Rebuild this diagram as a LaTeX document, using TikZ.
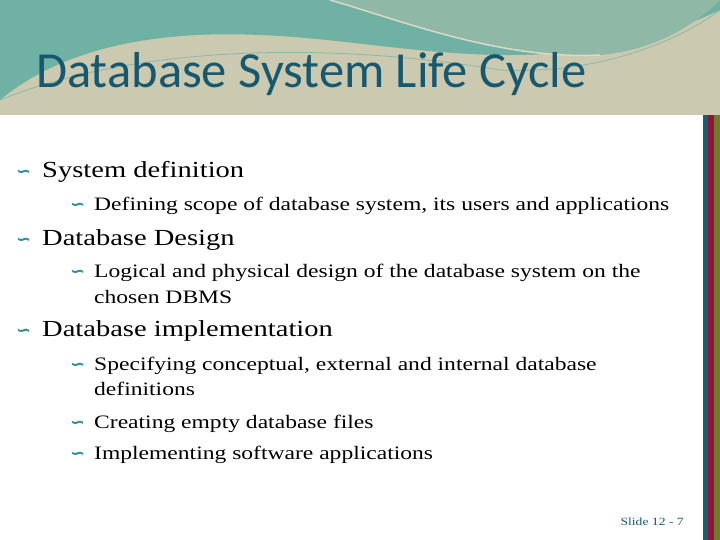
\documentclass[tikz,border=0pt]{standalone}
\usepackage{fontspec}
\setmainfont{Liberation Serif}[FakeStretch=1.24]
\newfontfamily\titlefont{Carlito}
\newfontfamily\symfont{DejaVu Sans}
\definecolor{band}{HTML}{CBC9AF}
\definecolor{teal1}{HTML}{6FB2A3}
\definecolor{teal2}{HTML}{8FB8A6}
\definecolor{titlec}{HTML}{17586E}
\definecolor{bulc}{HTML}{2E8C9A}
\definecolor{s1}{HTML}{1B5C72}
\definecolor{s2}{HTML}{8E1538}
\definecolor{s3}{HTML}{6E7A2C}
\tikzset{lone/.style={anchor=base west,font=\fontsize{23}{24}\selectfont,inner sep=0},
ltwo/.style={anchor=base west,font=\fontsize{19}{21}\selectfont,inner sep=0},
bul/.style={anchor=base west,inner sep=0,text=bulc,font=\symfont\bfseries\fontsize{18}{18}\selectfont}}
\begin{document}
\begin{tikzpicture}[x=1pt,y=-1pt]
\useasboundingbox (0,0) rectangle (720,540);
\fill[white] (0,0) rectangle (720,540);
\fill[band] (0,0) rectangle (720,115);
\fill[teal1] (0,0) -- (0,100) .. controls (60,50) and (150,30) .. (260,35) .. controls (400,40) and (550,90) .. (720,10) -- (720,0) -- cycle;
\fill[teal2] (330,0) .. controls (400,20) and (500,60) .. (600,55) .. controls (660,50) and (700,20) .. (720,0) -- cycle;
\draw[teal1!70!band,line width=0.8] (0,100) .. controls (150,40) and (350,45) .. (500,70) .. controls (600,75) and (680,40) .. (720,10);
\draw[band!70!white,line width=1.5] (330,0) .. controls (400,20) and (500,60) .. (600,55);
\node[anchor=base west,inner sep=0,text=titlec,font=\titlefont\fontsize{50.5}{52}\selectfont] (title) at (36,88) {Database System Life Cycle};
\fill[s1] (703,115) rectangle (708,540);
\fill[s2] (708,115) rectangle (714,540);
\fill[s3] (714,115) rectangle (720,540);
\foreach \n/\y/\t in {a/178/System definition,b/245/Database Design,c/336/Database implementation}{
 \node[bul] (b\n) at (16,\y) {∽};
 \node[lone] (t\n) at (42,\y) {\t};}
\foreach \n/\y/\t in {d/211/{Defining scope of database system, its users and applications},
 e/277/{Logical and physical design of the database system on the},
 f/370/{Specifying conceptual, external and internal database},
 g/428/{Creating empty database files},
 h/459/{Implementing software applications}}{
 \node[bul] (b\n) at (70,\y) {∽};
 \node[ltwo] (t\n) at (94,\y) {\t};}
\node[ltwo] (te2) at (94,303) {chosen DBMS};
\node[ltwo] (tf2) at (94,395) {definitions};
\node[anchor=base east,inner sep=0,text=titlec,font=\fontsize{11}{12}\selectfont] (num) at (684,525) {Slide 12 - 7};
\end{tikzpicture}
\end{document}
